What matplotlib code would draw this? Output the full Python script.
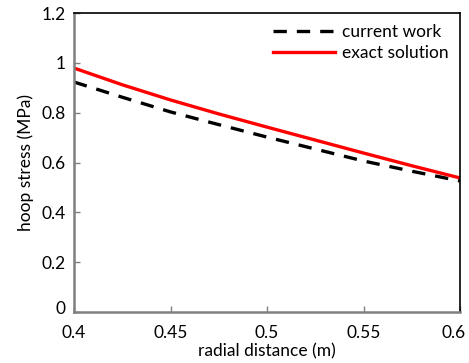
import matplotlib
matplotlib.use("Agg")
import matplotlib.pyplot as plt
import matplotlib.transforms as mtransforms

radial = [0.4, 0.425, 0.45, 0.475, 0.5, 0.525, 0.55, 0.575, 0.6]
current_work = [0.923, 0.862, 0.803, 0.752, 0.702, 0.654, 0.606, 0.565, 0.526]
exact_solution = [0.979, 0.912, 0.851, 0.795, 0.742, 0.69, 0.638, 0.587, 0.538]
xticks = [0.4, 0.45, 0.5, 0.55, 0.6]
xtick_labels = ["0.4", "0.45", "0.5", "0.55", "0.6"]
yticks = [0, 0.2, 0.4, 0.6, 0.8, 1.0, 1.2]
ytick_labels = ["0", "0.2", "0.4", "0.6", "0.8", "1", "1.2"]

plt.rcParams['font.family'] = ['Lato', 'DejaVu Sans']
fs = 12.5

fig = plt.figure(figsize=(4.69, 3.63), dpi=100)
ax = fig.add_axes([74/469, 1-312/363, (460-74)/469, (312-13)/363])

ax.plot(radial, current_work, color='black', lw=2.4, ls=(0, (4, 3)), label='current work')
ax.plot(radial, exact_solution, color='#ff0000', lw=2.4, label='exact solution')

ax.set_xlim(0.4, 0.6)
ax.set_ylim(0, 1.2)
ax.set_xticks(xticks)
ax.set_xticklabels(xtick_labels, fontsize=fs)
ax.set_yticks(yticks)
ax.set_yticklabels(ytick_labels, fontsize=fs)
ax.tick_params(axis='y', direction='in', length=4, width=1, color='#808080', pad=6)
ax.tick_params(axis='x', direction='in', length=4, width=1, color='#808080', pad=9)

# raise the "0" label slightly like the reference
zero_lab = ax.get_yticklabels()[0]
zero_lab.set_transform(zero_lab.get_transform() + mtransforms.ScaledTranslation(0, 4/100, fig.dpi_scale_trans))
# keep the last x label inside the figure
last_lab = ax.get_xticklabels()[-1]
last_lab.set_transform(last_lab.get_transform() + mtransforms.ScaledTranslation(-6/100, 0, fig.dpi_scale_trans))

for s in ['left', 'bottom']:
    ax.spines[s].set_color('#808080')
    ax.spines[s].set_linewidth(1.8)
for s in ['top', 'right']:
    ax.spines[s].set_color('black')
    ax.spines[s].set_linewidth(1.2)

ax.set_xlabel('radial distance (m)', fontsize=fs, labelpad=2)
ax.set_ylabel('hoop stress (MPa)', fontsize=fs, labelpad=5)

leg = ax.legend(loc='upper right', frameon=False, fontsize=fs, handlelength=3.6,
                handletextpad=0.4, borderaxespad=0.25, labelspacing=0.3)

fig.savefig('out.png', dpi=100)
